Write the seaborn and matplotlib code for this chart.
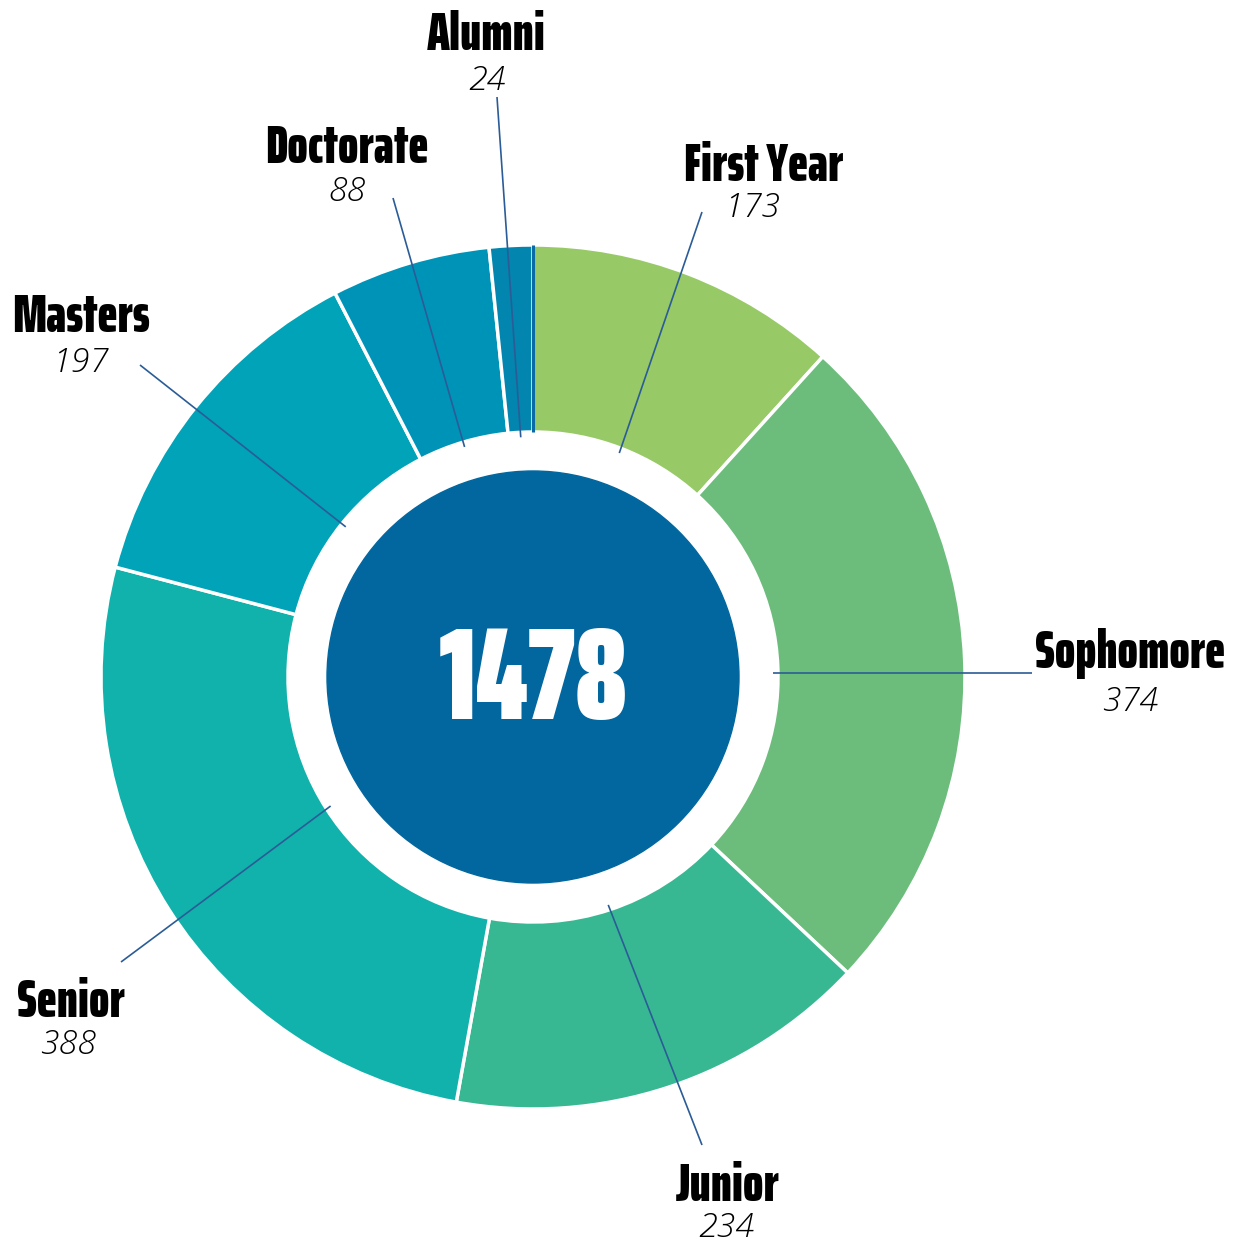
import numpy as np
import pandas as pd
import seaborn as sns
import matplotlib
matplotlib.use("Agg")
import matplotlib.pyplot as plt
from matplotlib import font_manager as fm
from matplotlib.font_manager import FontProperties
from matplotlib.textpath import TextPath

# ---------------- data ----------------
categories = ["First Year", "Sophomore", "Junior", "Senior", "Masters", "Doctorate", "Alumni"]
counts = [173, 374, 234, 388, 197, 88, 24]
colors = ["#97c967", "#6cbd7c", "#38b892", "#10b2ab", "#00a3b7", "#0093b8", "#0285ae"]
center_color = "#02679f"
total = sum(counts)

# label layout in pixel coords: (x centre, name baseline, number baseline, leader end)
label_x = [764, 1130, 728, 71, 81, 347, 486]
name_base = [181, 668, 1201, 1017, 332, 163, 50]
num_x = [752, 1130, 726, 68, 80, 347, 487]
num_base = [217, 711, 1237, 1054, 372, 201, 90]
lead_end = [(702, 212), (1032, 673), (702, 1145), (121, 962), (140, 365), (393, 198), (497, 97)]

df = pd.DataFrame({"category": categories, "count": counts, "color": colors})

# ---------------- style ----------------
sns.set_theme(style="white")
plt.rcParams["font.family"] = ["DejaVu Sans"]

W, H = 1243, 1245
CX, CY = 533, 677


def P(px, py):
    return px - CX, CY - py


REF_WORDS = ["Sophomore", "Senior", "Doctorate"]
REF_RATIO = (185 + 106 + 166) / 37.0


def pick_condensed_bold():
    rank = {"ultra-condensed": 1, "extra-condensed": 2, "condensed": 3, "semi-condensed": 4}
    wmap = {"bold": 700, "heavy": 800, "black": 900, "extra bold": 800, "semibold": 600,
            "demibold": 600, "normal": 400, "regular": 400, "medium": 500}
    best, best_score = None, None
    seen = set()
    for f in fm.fontManager.ttflist:
        p = f.fname.lower()
        n = f.name.lower()
        if f.fname in seen or "cjk" in p or "cjk" in n or "mono" in n:
            continue
        seen.add(f.fname)
        st = f.stretch
        r = 9
        if isinstance(st, str) and st in rank:
            r = rank[st]
        elif isinstance(st, (int, float)) and st < 500:
            r = 1 + int(st) // 100
        key = (p + " " + n).replace("-", "").replace("_", "").replace(" ", "")
        if "ultracondensed" in key:
            r = min(r, 1)
        elif "extracondensed" in key:
            r = min(r, 2)
        elif "semicondensed" in key:
            r = min(r, 4)
        elif "condensed" in key or "narrow" in key:
            r = min(r, 3)
        if r >= 9:
            continue
        w = f.weight
        if isinstance(w, str):
            w = wmap.get(w.lower(), 400)
        for tag, val in (("black", 900), ("extrabold", 800), ("heavy", 800)):
            if tag in key:
                w = max(w, val)
        if w < 700:
            continue
        if "italic" in p or "oblique" in p or f.style != "normal":
            continue
        try:
            prop = FontProperties(fname=f.fname)
            cap = TextPath((0, 0), "H", prop=prop, size=100).get_extents().height
            wid = sum(TextPath((0, 0), s, prop=prop, size=100).get_extents().width for s in REF_WORDS)
            ratio = wid / cap
        except Exception:
            continue
        score = abs(np.log(ratio / REF_RATIO)) + (0.08 if w < 800 else 0.0)
        if best_score is None or score < best_score:
            best, best_score = f, score
    if best is not None:
        return FontProperties(fname=best.fname)
    return FontProperties(family="DejaVu Sans", weight="bold", stretch="condensed")


cond = pick_condensed_bold()
num_font = FontProperties(family=["Open Sans", "Lato", "DejaVu Sans"], style="italic", weight="light")

# ---------------- figure ----------------
fig = plt.figure(figsize=(W / 100, H / 100), dpi=100)
fig.patch.set_facecolor("white")
ax = fig.add_axes([0, 0, 1, 1])

R_OUT, R_W = 432, 187
R_IN = R_OUT - R_W
wedges, _ = ax.pie(df["count"], colors=df["color"], startangle=90, counterclock=False,
                   radius=R_OUT, wedgeprops=dict(width=R_W, edgecolor="white", linewidth=2.5))
# thin dark sliver at the start of the ring
a0 = np.deg2rad(90)
ax.plot([R_IN * np.cos(a0), R_OUT * np.cos(a0)], [R_IN * np.sin(a0), R_OUT * np.sin(a0)],
        color="#0a6aa5", lw=2.2, zorder=2.5, solid_capstyle="butt")
ax.add_patch(plt.Circle((0, 0), 206, color=center_color, zorder=3))

ax.set_xlim(-CX, W - CX)
ax.set_ylim(-(H - CY), CY)
ax.set_aspect("equal", adjustable="box")
ax.axis("off")


def fit_size(texts, widths, cap_px):
    # font size (pt) from glyph geometry: cap height and widths in px at 100 dpi
    capu = TextPath((0, 0), "H", prop=cond, size=100).get_extents().height / 100.0
    s_h = cap_px / capu * 72 / 100
    sw = []
    for t, w in zip(texts, widths):
        wu = TextPath((0, 0), t, prop=cond, size=100).get_extents().width / 100.0
        sw.append(w / wu * 72 / 100)
    s_w = float(np.median(sw))
    return float(np.sqrt(s_h * s_w))


name_widths = [158, 185, 104, 106, 140, 166, 111]
name_size = fit_size(categories, name_widths, 37)
center_size = fit_size([str(total)], [182], 92)

# leader lines + labels
for i, wdg in enumerate(wedges):
    mid = np.deg2rad((wdg.theta1 + wdg.theta2) / 2)
    x0, y0 = 240 * np.cos(mid), 240 * np.sin(mid)
    x1, y1 = P(*lead_end[i])
    if abs(y1 - y0) < 12:
        y0 = y1
        x0 = np.sign(x1) * np.sqrt(240 ** 2 - y0 ** 2)
    ax.plot([x0, x1], [y0, y1], color="#2b5c97", lw=1.2, zorder=4, solid_capstyle="butt")
    ax.text(*P(label_x[i], name_base[i]), df["category"][i], fontproperties=cond,
            fontsize=name_size, ha="center", va="baseline", color="black", zorder=5)
    ax.text(*P(num_x[i], num_base[i]), str(df["count"][i]), fontproperties=num_font,
            fontsize=24.5, ha="center", va="baseline", color="black", zorder=5)

ax.text(0, P(0, 719)[1], str(total), fontproperties=cond, fontsize=center_size,
        ha="center", va="baseline", color="white", zorder=6)

fig.savefig("out.png", dpi=100, facecolor="white")
